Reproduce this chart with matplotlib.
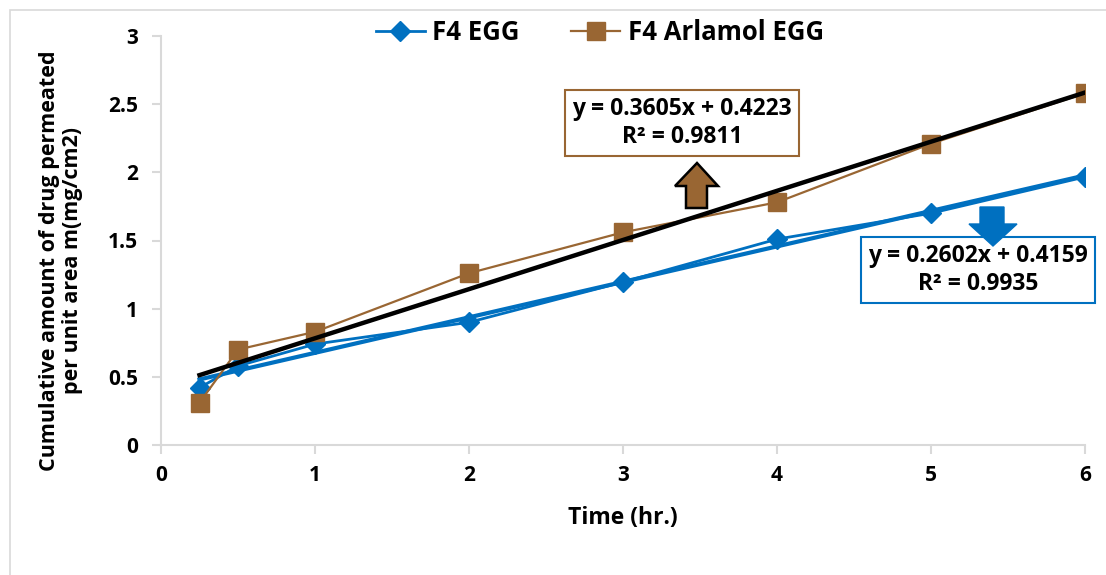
import matplotlib
matplotlib.use("Agg")
import matplotlib.pyplot as plt
from matplotlib.patches import Polygon, Rectangle
import numpy as np

plt.rcParams['font.family'] = ['Open Sans', 'DejaVu Sans']
plt.rcParams['font.weight'] = 'bold'

# Sampling times (hr.)
time_hr = [0.25, 0.5, 1, 2, 3, 4, 5, 6]
# Cumulative amount permeated per unit area (mg/cm2)
f4_egg = [0.42, 0.58, 0.74, 0.90, 1.195, 1.51, 1.70, 1.966]
f4_arlamol_egg = [0.31, 0.70, 0.83, 1.26, 1.56, 1.78, 2.21, 2.58]

# Linear trendlines: slope, intercept, R²
fit_egg = (0.2602, 0.4159, 0.9935)
fit_arlamol = (0.3605, 0.4223, 0.9811)

x_ticks = [0, 1, 2, 3, 4, 5, 6]
y_ticks = [0, 0.5, 1, 1.5, 2, 2.5, 3]
y_tick_labels = ["0", "0.5", "1", "1.5", "2", "2.5", "3"]

blue = "#0070C0"
brown = "#996633"
grey = "#D9D9D9"

W, H = 1106, 575
fig = plt.figure(figsize=(W / 100, H / 100), dpi=100)

def fx(px):
    return px / W

def fy(py):
    return 1 - py / H

# Chart border
fig.patches.append(Rectangle((fx(10), fy(600)), fx(1120) - fx(10), fy(10) - fy(600),
                             transform=fig.transFigure, fill=False,
                             edgecolor=grey, linewidth=1.2, zorder=0))

ax = fig.add_axes([fx(161), fy(445), fx(1085) - fx(161), fy(36) - fy(445)])
ax.set_xlim(0, 6)
ax.set_ylim(0, 3)

for s in ["top", "right"]:
    ax.spines[s].set_visible(False)
for s in ["left", "bottom"]:
    ax.spines[s].set_color(grey)
    ax.spines[s].set_linewidth(1.5)

ax.set_xticks(x_ticks)
ax.set_xticklabels([str(t) for t in x_ticks])
ax.set_yticks(y_ticks)
ax.set_yticklabels(y_tick_labels)
ax.tick_params(axis="both", colors=grey, length=6.5, width=1.5, labelcolor="black",
               labelsize=15)
ax.tick_params(axis="y", pad=10)
ax.tick_params(axis="x", pad=8)
for lbl in ax.get_xticklabels() + ax.get_yticklabels():
    lbl.set_fontweight("bold")

# Trendlines
tx = np.array([time_hr[0], time_hr[-1]])
ax.plot(tx, fit_egg[0] * tx + fit_egg[1], color=blue, linewidth=3, zorder=2)
ax.plot(tx, fit_arlamol[0] * tx + fit_arlamol[1], color="black", linewidth=3.2, zorder=4)

# Data series
ax.plot(time_hr, f4_egg, color=blue, linewidth=2, marker="D", markersize=10,
        markerfacecolor=blue, markeredgecolor=blue, label="F4 EGG", zorder=3)
ax.plot(time_hr, f4_arlamol_egg, color=brown, linewidth=1.6, marker="s", markersize=13,
        markerfacecolor=brown, markeredgecolor=brown, label="F4 Arlamol EGG", zorder=3)

ax.set_xlabel("Time (hr.)", fontsize=16.5, fontweight="bold", labelpad=14)
ax.set_ylabel("Cumulative amount of drug permeated\nper unit area m(mg/cm2)",
              fontsize=15.5, fontweight="bold", linespacing=1.12)
ax.yaxis.set_label_coords(-0.084, 0.45)

leg = fig.legend(loc="center", bbox_to_anchor=(fx(600), fy(32)), ncol=2, frameon=False,
                 prop={"size": 18.5, "weight": "bold"}, handlelength=1.9,
                 columnspacing=2.0, handletextpad=0.3)

# Trendline equation boxes
fig.text(fx(682), fy(123),
         f"y = {fit_arlamol[0]:.4f}x + {fit_arlamol[1]:.4f}\nR² = {fit_arlamol[2]:.4f}",
         ha="center", va="center", fontsize=16.5, fontweight="bold", linespacing=1.25,
         bbox=dict(boxstyle="square,pad=0.3", facecolor="white", edgecolor=brown, linewidth=1.5))
fig.text(fx(978), fy(270),
         f"y = {fit_egg[0]:.4f}x + {fit_egg[1]:.4f}\nR² = {fit_egg[2]:.4f}",
         ha="center", va="center", fontsize=16.5, fontweight="bold", linespacing=1.25,
         bbox=dict(boxstyle="square,pad=0.3", facecolor="white", edgecolor=blue, linewidth=1.5),
         zorder=5)

# Block arrows pointing to each equation
up_arrow = [(686, 208), (707, 208), (707, 186), (718, 186), (697, 163), (675, 186), (686, 186)]
fig.patches.append(Polygon([(fx(a), fy(b)) for a, b in up_arrow], closed=True,
                           transform=fig.transFigure, facecolor=brown, edgecolor="black",
                           linewidth=1.8, zorder=6))
down_arrow = [(980, 207), (1004, 207), (1004, 224), (1017, 224), (993, 246), (969, 224), (980, 224)]
fig.patches.append(Polygon([(fx(a), fy(b)) for a, b in down_arrow], closed=True,
                           transform=fig.transFigure, facecolor=blue, edgecolor=blue,
                           linewidth=1, zorder=6))

fig.savefig("out.png", dpi=100)
